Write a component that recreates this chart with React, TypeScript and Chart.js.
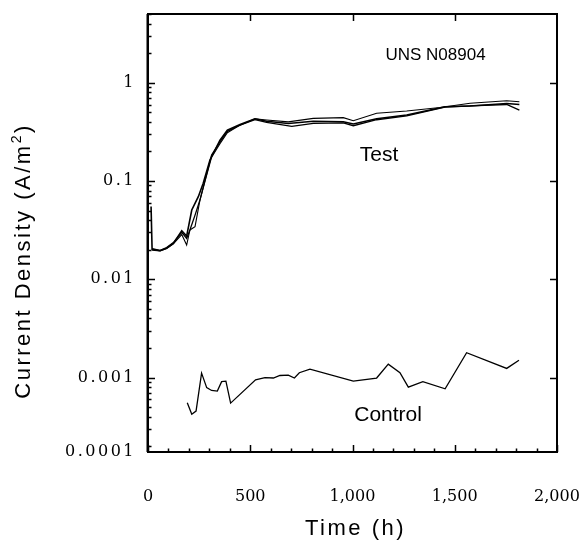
import React, { useEffect, useRef } from 'react';
import { Chart, registerables } from 'chart.js';

Chart.register(...registerables);

// ---- Data ----
const testA_t = [15, 20, 59, 91, 124, 165, 189, 214, 246, 270, 303, 352, 388, 450, 523, 580, 686, 808, 955, 1004, 1118, 1265, 1452, 1575, 1754, 1816];
const testA_v = [0.055, 0.0202, 0.0195, 0.0207, 0.0232, 0.0312, 0.0275, 0.0507, 0.0692, 0.0948, 0.163, 0.26, 0.33, 0.375, 0.43, 0.405, 0.385, 0.405, 0.4, 0.38, 0.43, 0.47, 0.57, 0.58, 0.615, 0.6];

const testB_t = [20, 59, 91, 124, 165, 189, 205, 230, 254, 279, 311, 352, 388, 450, 523, 580, 703, 808, 955, 1004, 1118, 1265, 1452, 1575, 1754, 1816];
const testB_v = [0.0205, 0.0197, 0.021, 0.0236, 0.03, 0.026, 0.0318, 0.045, 0.064, 0.102, 0.184, 0.25, 0.32, 0.37, 0.42, 0.395, 0.36, 0.385, 0.39, 0.365, 0.42, 0.46, 0.565, 0.58, 0.6, 0.527];

const testC_t = [20, 59, 91, 124, 165, 189, 205, 230, 254, 279, 311, 352, 388, 450, 523, 580, 686, 808, 955, 1004, 1118, 1265, 1428, 1575, 1754, 1816];
const testC_v = [0.0198, 0.0194, 0.0206, 0.023, 0.0285, 0.0223, 0.0318, 0.0343, 0.064, 0.1, 0.175, 0.24, 0.31, 0.37, 0.43, 0.418, 0.4, 0.434, 0.441, 0.41, 0.489, 0.515, 0.56, 0.617, 0.656, 0.641];

const control_t = [192, 214, 235, 262, 287, 311, 339, 360, 381, 404, 526, 572, 613, 645, 686, 716, 740, 792, 1004, 1118, 1175, 1232, 1273, 1344, 1453, 1558, 1754, 1814];
const control_v = [0.000556, 0.000423, 0.000457, 0.00111, 0.000791, 0.00074, 0.00073, 0.00091, 0.00092, 0.00055, 0.00095, 0.001, 0.00099, 0.00105, 0.00106, 0.00099, 0.00112, 0.00122, 0.00092, 0.00099, 0.00137, 0.00112, 0.0008, 0.00091, 0.00077, 0.00179, 0.00124, 0.0015];

const xMin = 0;
const xMax = 2000;
const xMajorStep = 500;
const xMinorStep = 100;

const yMin = 0.000175;
const yMax = 5;
const yDecades = [0.0001, 0.001, 0.01, 0.1, 1];
const yBottomLabel = '0.0001';

const xTitle = 'Time (h)';
const yTitleMain = 'Current Density (A/m';
const yTitleSup = '2';
const yTitleEnd = ')';

const noteTexts = ['UNS N08904', 'Test', 'Control'];
const noteX = [1406, 1130, 1174];
const noteY = [1.91, 0.184, 0.000418];

// ---- helpers ----
const toPoints = (t: number[], v: number[]) => t.map((x, i) => ({ x, y: v[i] }));
const isDecade = (v: number) => Math.abs(Math.log10(v) - Math.round(Math.log10(v))) < 1e-9;

const yTickValues: number[] = (() => {
  const out: number[] = [yMin];
  for (const d of yDecades) {
    for (let m = 1; m <= 9; m++) {
      const v = m * d;
      if (v > yMin * 1.0001 && v <= yMax * 1.0001) out.push(v);
    }
  }
  return out;
})();

const framePlugin = {
  id: 'frameTicks',
  afterDraw(chart: any) {
    const { ctx, chartArea, scales } = chart;
    const { left, right, top, bottom } = chartArea;
    const x = scales.x;
    const y = scales.y;
    ctx.save();
    ctx.strokeStyle = '#000';
    ctx.lineWidth = 2;
    ctx.strokeRect(left, top, right - left, bottom - top);
    ctx.beginPath();
    ctx.moveTo(left - 0.5, top);
    ctx.lineTo(left - 0.5, bottom);
    ctx.stroke();
    ctx.lineWidth = 1.5;
    ctx.beginPath();
    for (let v = xMin; v <= xMax; v += xMinorStep) {
      const px = Math.round(x.getPixelForValue(v)) + 0.5;
      const major = v % xMajorStep === 0;
      const len = major ? 7 : 3.5;
      ctx.moveTo(px, bottom);
      ctx.lineTo(px, bottom - len);
      if (major && v > xMin && v < xMax) {
        ctx.moveTo(px, top);
        ctx.lineTo(px, top + 7);
      }
    }
    for (const t of y.ticks) {
      if (t.value <= yMin * 1.0001) continue;
      const py = Math.round(y.getPixelForValue(t.value)) + 0.5;
      const major = isDecade(t.value);
      ctx.moveTo(left, py);
      ctx.lineTo(left + (major ? 7 : 3.5), py);
      if (major) {
        ctx.moveTo(right, py);
        ctx.lineTo(right - 7, py);
      }
    }
    ctx.stroke();

    // notes
    ctx.fillStyle = '#000';
    ctx.textAlign = 'center';
    ctx.textBaseline = 'middle';
    noteTexts.forEach((txt, i) => {
      ctx.font = `${i === 0 ? 17 : 21}px "Liberation Sans", Arial, sans-serif`;
      ctx.fillText(txt, x.getPixelForValue(noteX[i]), y.getPixelForValue(noteY[i]));
    });

    // axis titles
    try { (ctx as any).letterSpacing = '2.5px'; } catch (e) {}
    ctx.font = '22px "Liberation Sans", Arial, sans-serif';
    ctx.textBaseline = 'alphabetic';
    ctx.textAlign = 'center';
    ctx.fillText(xTitle, (left + right) / 2 + 3, bottom + 83);

    ctx.save();
    ctx.translate(30, (top + bottom) / 2 + 28);
    ctx.rotate(-Math.PI / 2);
    ctx.textAlign = 'left';
    const w1 = ctx.measureText(yTitleMain).width;
    ctx.font = '14px "Liberation Sans", Arial, sans-serif';
    const w2 = ctx.measureText(yTitleSup).width;
    ctx.font = '22px "Liberation Sans", Arial, sans-serif';
    const w3 = ctx.measureText(yTitleEnd).width;
    const start = -(w1 + w2 + w3) / 2;
    ctx.fillText(yTitleMain, start, 0);
    ctx.font = '14px "Liberation Sans", Arial, sans-serif';
    ctx.fillText(yTitleSup, start + w1, -9);
    ctx.font = '22px "Liberation Sans", Arial, sans-serif';
    ctx.fillText(yTitleEnd, start + w1 + w2, 0);
    ctx.restore();
    ctx.restore();
  },
};

export default function App() {
  const canvasRef = useRef<HTMLCanvasElement | null>(null);

  useEffect(() => {
    if (!canvasRef.current) return;
    const tickFont = { family: '"DejaVu Serif", serif', size: 16 };
    const line = (data: any, w: number) => ({
      data,
      borderColor: '#000',
      backgroundColor: '#000',
      borderWidth: w,
      pointRadius: 0,
      tension: 0,
      fill: false,
    });
    const chart = new Chart(canvasRef.current, {
      type: 'line',
      data: {
        datasets: [
          { label: 'Test A', ...line(toPoints(testA_t, testA_v), 1.6) },
          { label: 'Test B', ...line(toPoints(testB_t, testB_v), 1.3) },
          { label: 'Test C', ...line(toPoints(testC_t, testC_v), 1.1) },
          { label: 'Control', ...line(toPoints(control_t, control_v), 1.3) },
        ],
      },
      options: {
        animation: false,
        responsive: false,
        layout: { padding: { top: 14, right: 29, left: 0, bottom: 0 } },
        plugins: { legend: { display: false }, tooltip: { enabled: false } },
        scales: {
          x: {
            type: 'linear',
            min: xMin,
            max: xMax,
            grid: { display: false, drawTicks: false },
            border: { display: false },
            ticks: {
              stepSize: xMajorStep,
              color: '#000',
              font: tickFont,
              padding: 35,
              maxRotation: 0,
              callback: (v: any) => Number(v).toLocaleString('en-US'),
            },
            afterFit: (s: any) => {
              s.height = 97;
              s.paddingLeft = 0;
              s.paddingRight = 0;
              s.paddingTop = 0;
              s.paddingBottom = 0;
            },
          },
          y: {
            type: 'logarithmic',
            min: yMin,
            max: yMax,
            grid: { display: false, drawTicks: false },
            border: { display: false },
            afterBuildTicks: (s: any) => {
              s.ticks = yTickValues.map((v) => ({ value: v }));
              if (!s.__spaced) {
                const orig = s.drawLabels.bind(s);
                s.drawLabels = (area: any) => {
                  const c = s.ctx;
                  const prev = c.letterSpacing;
                  try { c.letterSpacing = '2.5px'; } catch (e) {}
                  orig(area);
                  try { c.letterSpacing = prev || '0px'; } catch (e) {}
                };
                s.__spaced = true;
              }
            },
            ticks: {
              autoSkip: false,
              color: '#000',
              font: tickFont,
              padding: 12,
              callback: (v: any) => {
                const n = Number(v);
                if (n <= yMin * 1.0001) return yBottomLabel;
                return isDecade(n) ? String(Math.pow(10, Math.round(Math.log10(n)))) : '';
              },
            },
            afterFit: (s: any) => {
              s.width = 148;
              s.paddingLeft = 0;
              s.paddingRight = 0;
              s.paddingTop = 0;
              s.paddingBottom = 0;
            },
          },
        },
      },
      plugins: [framePlugin],
    } as any);
    return () => chart.destroy();
  }, []);

  return (
    <div style={{ position: 'absolute', left: 0, top: 0, width: 586, height: 549, background: '#fff' }}>
      <canvas ref={canvasRef} width={586} height={549} style={{ display: 'block' }} />
    </div>
  );
}
